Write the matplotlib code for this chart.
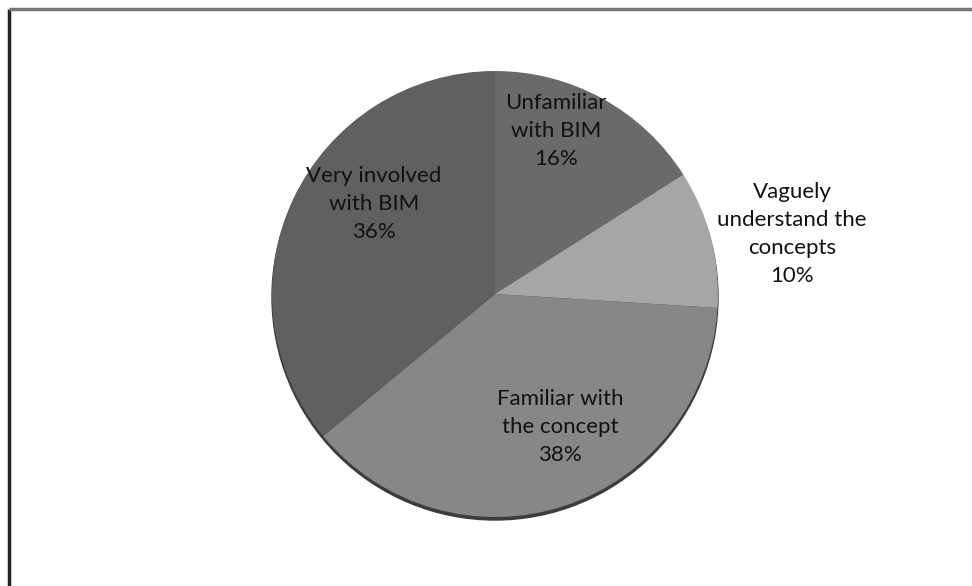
import matplotlib.pyplot as plt
from matplotlib.patches import Circle

# Data
labels = ['Unfamiliar\nwith BIM', 'Vaguely\nunderstand the\nconcepts',
          'Familiar with\nthe concept', 'Very involved\nwith BIM']
shares = [16, 10, 38, 36]
colors = ['#6a6a6a', '#a6a6a6', '#878787', '#606060']

# label centres in pixel space (x, y from top)
label_pos = [(556, 131), (792, 234), (560, 427), (374, 204)]

W, H = 972, 586
fig = plt.figure(figsize=(W / 100, H / 100), dpi=100)
ax = fig.add_axes([0, 0, 1, 1])

cx, cy, r = 495, H - 294, 223

# bottom rim shadow
ax.add_patch(Circle((cx, cy - 3), r, color='#3c3c3c', zorder=1))

ax.pie(shares, colors=colors, startangle=90, counterclock=False,
       radius=r, center=(cx, cy), frame=True,
       wedgeprops=dict(linewidth=0, zorder=2))
ax.set_xlim(0, W)
ax.set_ylim(0, H)
ax.set_aspect('equal')
ax.axis('off')

for lab, s, (px, py) in zip(labels, shares, label_pos):
    ax.text(px, H - py, f'{lab}\n{s}%', ha='center', va='center',
            fontsize=16, family='Lato', color='#111111',
            linespacing=1.5, zorder=5)

# frame on left and top
ax.plot([9, 9], [0, H - 9], color='#222222', lw=2.5, solid_capstyle='butt')
ax.plot([9, W], [H - 9, H - 9], color='#777777', lw=2.5, solid_capstyle='butt')

fig.savefig('out.png', dpi=100)
